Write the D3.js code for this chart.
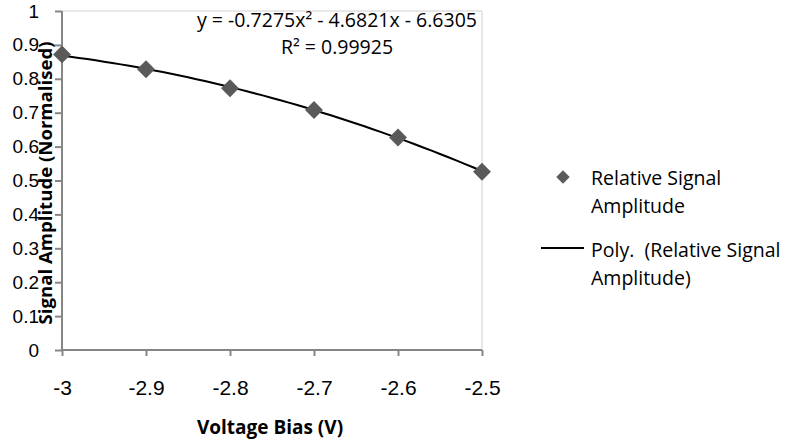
<!DOCTYPE html>
<html>
<head>
<meta charset="utf-8">
<script src="https://cdn.jsdelivr.net/npm/d3@7"></script>
<style>
  body { margin: 0; background: #fff; }
  text { fill: #000; }
</style>
</head>
<body>
<svg width="789" height="441"></svg>
<script>
// data
const biasV = [-3, -2.9, -2.8, -2.7, -2.6, -2.5];
const amplitude = [0.872, 0.828, 0.772, 0.708, 0.627, 0.526];
const xTicks = [-3, -2.9, -2.8, -2.7, -2.6, -2.5];
const yTicks = [0, 0.1, 0.2, 0.3, 0.4, 0.5, 0.6, 0.7, 0.8, 0.9, 1];
// trendline coefficients as printed on the chart: a*x^2 + b*x + c
const polyCoef = [-0.7275, -4.6821, -6.6305];
const eqLabel = "y = -0.7275x² - 4.6821x - 6.6305";
const r2Label = "R² = 0.99925";

const svg = d3.select("svg");
const axisColor = "#868686";

const x = d3.scaleLinear().domain([-3, -2.5]).range([62, 482]);
const y = d3.scaleLinear().domain([0, 1]).range([350, 11]);

// plot area border (top / right, light)
svg.append("path")
  .attr("d", `M${x(-3)},${y(1)}H${x(-2.5)}V${y(0)}`)
  .attr("fill", "none").attr("stroke", "#d0d0d0").attr("stroke-width", 1);

const yAxis = svg.append("g")
  .attr("transform", `translate(${x(-3)},0)`)
  .call(d3.axisLeft(y).tickValues(yTicks).tickSize(7).tickPadding(16)
    .tickFormat(d => String(d)));
const xAxis = svg.append("g")
  .attr("transform", `translate(0,${y(0)})`)
  .call(d3.axisBottom(x).tickValues(xTicks).tickSize(6).tickPadding(24)
    .tickFormat(d => String(d)));

[xAxis, yAxis].forEach(g => {
  g.select(".domain").attr("stroke", axisColor).attr("stroke-width", 2)
  g.selectAll(".tick line").attr("stroke", axisColor).attr("stroke-width", 2)
  g.selectAll("text").attr("fill", "#000").attr("font-family", "Liberation Sans, Arial, sans-serif")
});
yAxis.selectAll("text").attr("font-size", 19);
xAxis.selectAll("text").attr("font-size", 21);
yAxis.select(".domain").attr("d", `M0,${y(1)}V${y(0)}`);
xAxis.select(".domain").attr("d", `M${x(-3)},0H${x(-2.5)}`);

// trend line from the printed coefficients
const poly = v => polyCoef[0] * v * v + polyCoef[1] * v + polyCoef[2];
const curveX = d3.range(0, 51).map(i => -3 + i * 0.01);
svg.append("path")
  .datum(curveX)
  .attr("d", d3.line().x(d => x(d)).y(d => y(poly(d))))
  .attr("fill", "none").attr("stroke", "#000").attr("stroke-width", 2);

// markers
const diamond = d3.symbol().type(d3.symbolSquare).size(160);
svg.append("g").selectAll("path")
  .data(biasV)
  .join("path")
  .attr("d", diamond)
  .attr("transform", (d, i) => `translate(${x(d)},${y(amplitude[i])}) rotate(45)`)
  .attr("fill", "#5a5a5a");

// equation
const calibri = "'Open Sans', Lato, sans-serif";
svg.append("text").attr("x", 337).attr("y", 27).attr("text-anchor", "middle")
  .attr("font-family", calibri).attr("font-size", 19.5).text(eqLabel);
svg.append("text").attr("x", 337).attr("y", 54).attr("text-anchor", "middle")
  .attr("font-family", calibri).attr("font-size", 19.5).text(r2Label);

// axis titles
svg.append("text").attr("x", 270).attr("y", 434).attr("text-anchor", "middle")
  .attr("font-family", calibri).attr("font-weight", "bold").attr("font-size", 19)
  .text("Voltage Bias (V)");
svg.append("text").attr("transform", "translate(52,183) rotate(-90)")
  .attr("text-anchor", "middle")
  .attr("font-family", calibri).attr("font-weight", "bold").attr("font-size", 18.6)
  .text("Signal Amplitude (Normalised)");

// legend
const lg = svg.append("g").attr("font-family", calibri).attr("font-size", 19.5);
lg.append("path").attr("d", d3.symbol().type(d3.symbolSquare).size(90))
  .attr("transform", "translate(563,177) rotate(45)").attr("fill", "#5a5a5a");
lg.append("text").attr("x", 591).attr("y", 185).text("Relative Signal");
lg.append("text").attr("x", 591).attr("y", 213).text("Amplitude");
lg.append("line").attr("x1", 541).attr("x2", 584).attr("y1", 248).attr("y2", 248)
  .attr("stroke", "#000").attr("stroke-width", 2);
lg.append("text").attr("x", 591).attr("y", 257).attr("xml:space", "preserve").text("Poly.  (Relative Signal");
lg.append("text").attr("x", 591).attr("y", 285).text("Amplitude)");
</script>
</body>
</html>
